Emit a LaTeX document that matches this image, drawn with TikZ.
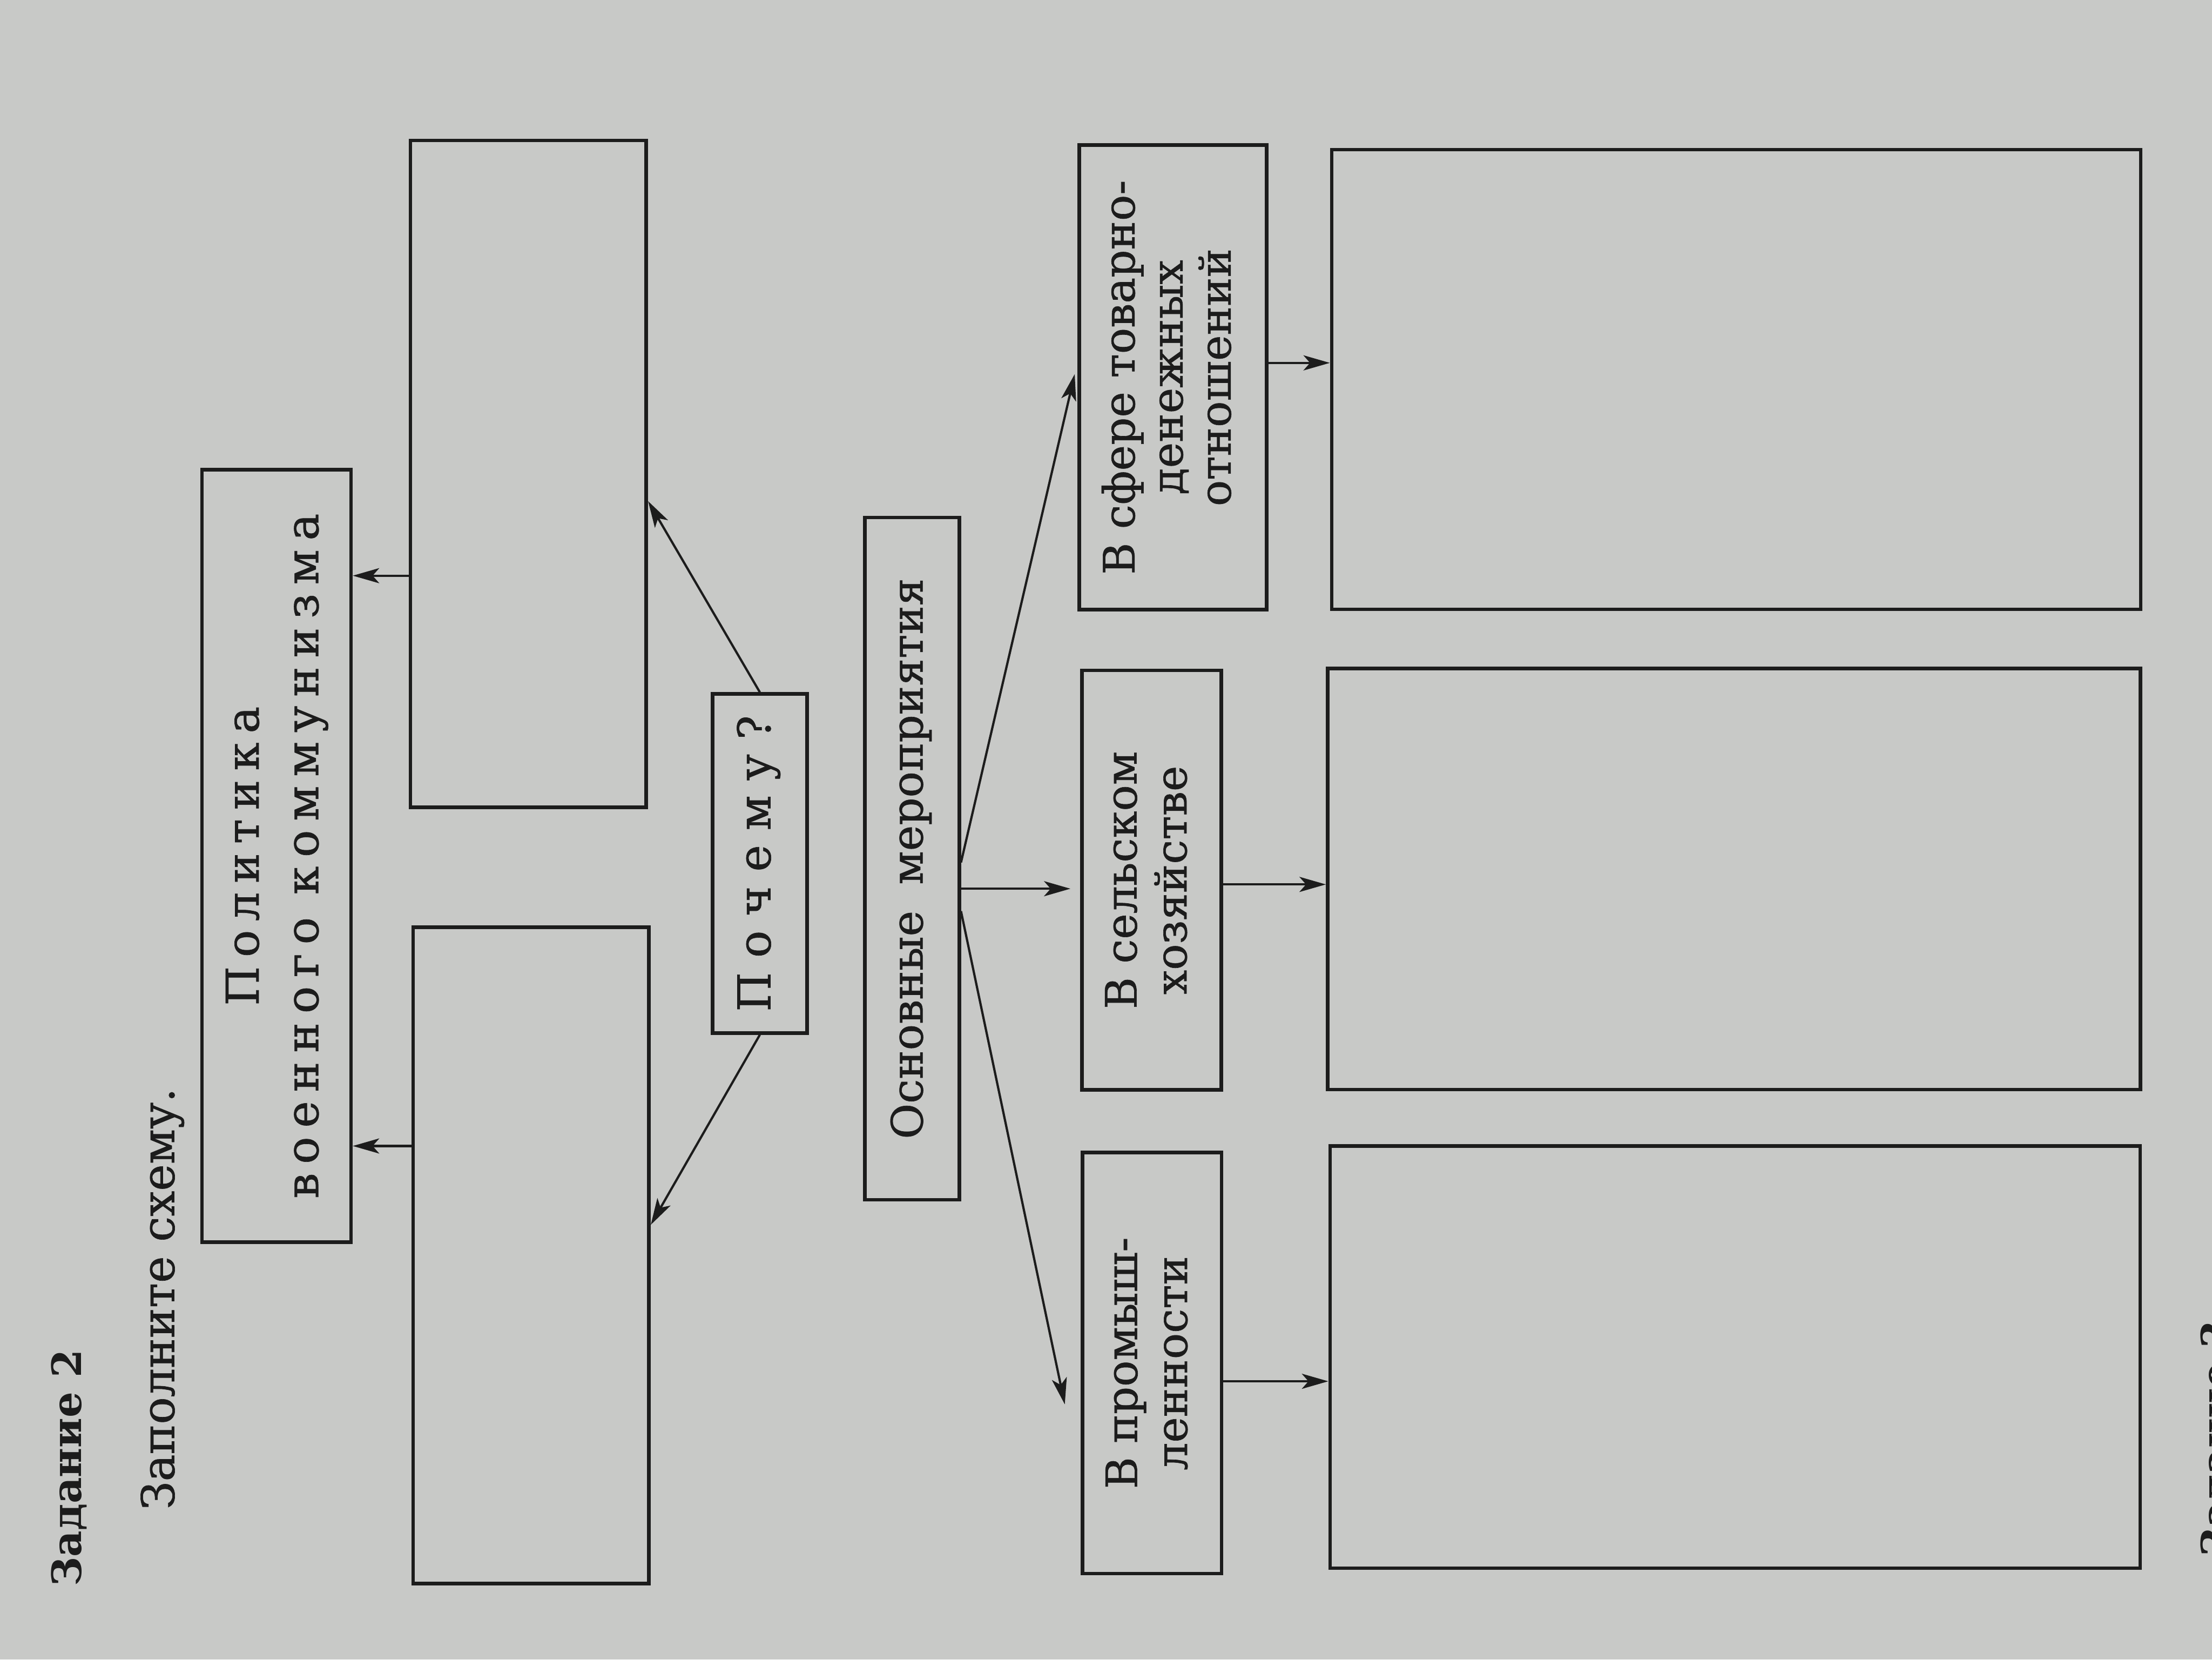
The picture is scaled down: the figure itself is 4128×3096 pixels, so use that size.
\documentclass[tikz,border=0pt]{standalone}
\usepackage{fontspec}
\usepackage{graphicx}
\setmainfont{DejaVu Serif}[FakeBold=0.8]
\newfontfamily\headfont{DejaVu Serif Bold}
\usetikzlibrary{arrows.meta,calc}
\definecolor{paper}{RGB}{200,201,199}
\definecolor{ink}{RGB}{28,28,28}
\newcommand{\rotlbl}[2]{\rotatebox{90}{#1\begin{tabular}{@{}c@{}}#2\end{tabular}}}
\begin{document}
\begin{tikzpicture}[x=0.01cm,y=-0.01cm,
  frame/.style={draw=ink, line width=1.9pt, rectangle, inner sep=0pt, text=ink},
  conn/.style={draw=ink, line width=1.2pt, -{Stealth[length=14pt,width=8pt,inset=3.5pt]}},
  txt/.style={text=ink, inner sep=0pt, rotate=90, anchor=base west}
]
\fill[paper] (0,0) rectangle (4128,3096);
\useasboundingbox (0,0) rectangle (4128,3096);
\clip (0,0) rectangle (4128,3096);

% headings
\node[txt, font=\fontsize{21.5}{26}\headfont] (task) at (152,2960) {Задание 2};
\node[txt, font=\fontsize{24}{28}\selectfont] (fill) at (325,2817) {Заполните схему.};
\node[txt, font=\fontsize{21.5}{26}\headfont] (task3) at (4163,2905) {Задание 3};

% boxes
\node[frame, minimum width=2.78cm, minimum height=14.4cm] (pol) at (516,1597)
  {\rotlbl{\fontsize{24}{31.6}\selectfont\addfontfeatures{LetterSpace=20}}{Политика\hspace{-0.2em}\\военного\hspace{0.5em}коммунизма\hspace{-0.2em}}};
\node[frame, minimum width=4.4cm, minimum height=12.43cm] (A) at (986,884) {};
\node[frame, minimum width=4.4cm, minimum height=12.24cm] (B) at (991,2342) {};
\node[frame, minimum width=1.76cm, minimum height=6.32cm] (poch) at (1418,1611)
  {\rotlbl{\fontsize{24}{28}\selectfont\addfontfeatures{LetterSpace=32}}{Почему?\hspace{-0.32em}}};
\node[frame, minimum width=1.76cm, minimum height=12.72cm] (osn) at (1702,1602)
  {\rotlbl{\fontsize{23}{28}\selectfont}{Основные\hspace{0.6em}мероприятия}};
\node[frame, minimum width=3.5cm, minimum height=8.66cm] (C1) at (2189,704)
  {\rotlbl{\fontsize{23}{25.5}\selectfont}{В сфере товарно-\\денежных\\отношений}};
\node[frame, minimum width=2.6cm, minimum height=7.82cm] (C2) at (2149,1642)
  {\rotlbl{\fontsize{23}{26.5}\selectfont}{В сельском\\хозяйстве}};
\node[frame, minimum width=2.59cm, minimum height=7.85cm] (C3) at (2150,2543)
  {\rotlbl{\fontsize{23}{26.5}\selectfont}{В промыш-\\ленности}};
\node[frame, minimum width=15.09cm, minimum height=8.57cm] (D1) at (3240,708) {};
\node[frame, minimum width=15.16cm, minimum height=7.85cm] (D2) at (3236,1640) {};
\node[frame, minimum width=15.11cm, minimum height=7.87cm] (D3) at (3238,2532) {};

% level coordinates
\coordinate (yA) at (0,1074);
\coordinate (yB) at (0,2138);
\coordinate (yPA) at (0,935);
\coordinate (yPB) at (0,2285);
\coordinate (yO1) at (0,1609);
\coordinate (yO2) at (0,1658);
\coordinate (yO3) at (0,1700);
\coordinate (yC1) at (0,698);
\coordinate (yC2) at (0,1658);
\coordinate (yC3) at (0,2620);
\coordinate (yD1) at (0,677);
\coordinate (yD2) at (0,1650);
\coordinate (yD3) at (0,2577);

% connectors
\draw[conn] (A.west |- yA) -- (pol.east |- yA);
\draw[conn] (B.west |- yB) -- (pol.east |- yB);
\draw[conn] (poch.north) -- (A.east |- yPA);
\draw[conn] (poch.south) -- (B.east |- yPB);
\draw[conn] (osn.east |- yO1) -- ([xshift=-0.05cm]C1.west |- yC1);
\draw[conn] (osn.east |- yO2) -- ([xshift=-0.18cm]C2.west |- yC2);
\draw[conn] (osn.east |- yO3) -- ([xshift=-0.3cm]C3.west |- yC3);
\draw[conn] (C1.east |- yD1) -- (D1.west |- yD1);
\draw[conn] (C2.east |- yD2) -- (D2.west |- yD2);
\draw[conn] (C3.east |- yD3) -- (D3.west |- yD3);
\end{tikzpicture}
\end{document}
